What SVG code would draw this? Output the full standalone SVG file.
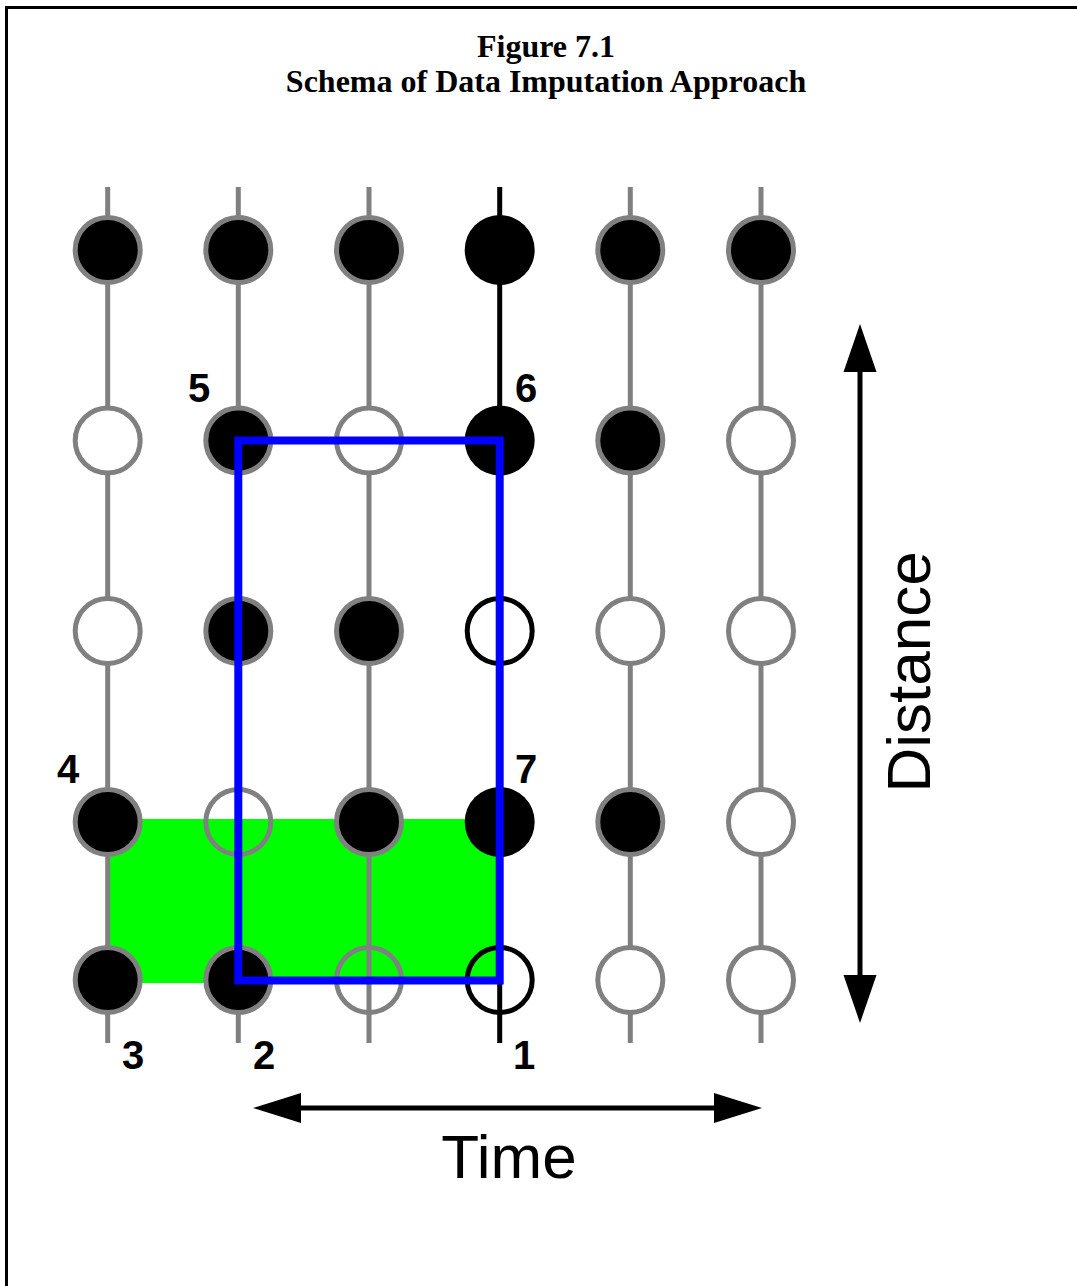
<svg xmlns="http://www.w3.org/2000/svg" width="1077" height="1286" viewBox="0 0 1077 1286">
<style>
.title{font-family:"Liberation Serif","Times New Roman",serif;font-weight:bold;font-size:32px;text-anchor:middle;fill:#000}
.lbl{font-family:"Liberation Sans",Arial,sans-serif;font-weight:bold;font-size:40px;text-anchor:middle;fill:#000}
.axis{font-family:"Liberation Sans",Arial,sans-serif;font-size:62px;text-anchor:middle;fill:#000}
.gl{stroke:#808080;stroke-width:5;fill:none}
.bl{stroke:#000;stroke-width:5;fill:none}
.gf{fill:#000;stroke:#808080;stroke-width:5}
.ge{fill:#fff;stroke:#808080;stroke-width:5}
.gn{fill:none;stroke:#808080;stroke-width:5}
.kf{fill:#000;stroke:none}
.ke{fill:#fff;stroke:#000;stroke-width:5}
.kn{fill:none;stroke:#000;stroke-width:5}
</style>
<rect x="0" y="0" width="1077" height="1286" fill="#fff"/>
<path d="M6.5 1286 V7.5 H1077" fill="none" stroke="#000" stroke-width="3"/>
<text class="title" x="546" y="57">Figure 7.1</text>
<text class="title" x="546" y="92">Schema of Data Imputation Approach</text>
<rect id="window" x="108" y="819" width="392" height="164" fill="#00ff00"/>
<g id="connectors">
<line class="gl" x1="107.7" y1="187" x2="107.7" y2="1043"/>
<line class="gl" x1="238.3" y1="187" x2="238.3" y2="1043"/>
<line class="gl" x1="369" y1="187" x2="369" y2="1043"/>
<line class="bl" x1="499.7" y1="187" x2="499.7" y2="1043"/>
<line class="gl" x1="630.3" y1="187" x2="630.3" y2="1043"/>
<line class="gl" x1="761" y1="187" x2="761" y2="1043"/>
<path d="M860 370 V977" stroke="#000" stroke-width="5" fill="none"/>
<polygon points="860,324 843.5,372 876.5,372" fill="#000"/>
<polygon points="860,1023 843.5,975 876.5,975" fill="#000"/>
<path d="M299 1108 H716" stroke="#000" stroke-width="5" fill="none"/>
<polygon points="253,1108 301,1093 301,1123" fill="#000"/>
<polygon points="762,1108 714,1093 714,1123" fill="#000"/>
</g>
<g id="nodes">
<g id="r1">
<circle class="gf" cx="107.7" cy="250" r="32.5"/>
<circle class="gf" cx="238.3" cy="250" r="32.5"/>
<circle class="gf" cx="369" cy="250" r="32.5"/>
<circle class="kf" cx="499.7" cy="250" r="35"/>
<circle class="gf" cx="630.3" cy="250" r="32.5"/>
<circle class="gf" cx="761" cy="250" r="32.5"/>
</g>
<g id="r2">
<circle class="ge" cx="107.7" cy="440.5" r="32.5"/>
<circle class="gf" cx="238.3" cy="440.5" r="32.5"/>
<circle class="ge" cx="369" cy="440.5" r="32.5"/>
<circle class="kf" cx="499.7" cy="440.5" r="35"/>
<circle class="gf" cx="630.3" cy="440.5" r="32.5"/>
<circle class="ge" cx="761" cy="440.5" r="32.5"/>
</g>
<g id="r3">
<circle class="ge" cx="107.7" cy="631" r="32.5"/>
<circle class="gf" cx="238.3" cy="631" r="32.5"/>
<circle class="gf" cx="369" cy="631" r="32.5"/>
<circle class="ke" cx="499.7" cy="631" r="32.5"/>
<circle class="ge" cx="630.3" cy="631" r="32.5"/>
<circle class="ge" cx="761" cy="631" r="32.5"/>
</g>
<g id="r4">
<circle class="gf" cx="107.7" cy="822" r="32.5"/>
<circle class="gn" cx="238.3" cy="822" r="32.5"/>
<circle class="gf" cx="369" cy="822" r="32.5"/>
<circle class="kf" cx="499.7" cy="822" r="35"/>
<circle class="gf" cx="630.3" cy="822" r="32.5"/>
<circle class="ge" cx="761" cy="822" r="32.5"/>
</g>
<g id="r5">
<circle class="gf" cx="107.7" cy="980" r="32.5"/>
<circle class="gf" cx="238.3" cy="980" r="32.5"/>
<circle class="gn" cx="369" cy="980" r="32.5"/>
<circle class="kn" cx="499.7" cy="980" r="32.5"/>
<circle class="ge" cx="630.3" cy="980" r="32.5"/>
<circle class="ge" cx="761" cy="980" r="32.5"/>
</g>
</g>
<rect id="neighborhood" x="238.3" y="440.5" width="261.4" height="540" fill="none" stroke="#0000ff" stroke-width="8"/>
<g id="labels">
<text class="lbl" x="199" y="402">5</text>
<text class="lbl" x="526" y="402">6</text>
<text class="lbl" x="68" y="783">4</text>
<text class="lbl" x="526" y="783">7</text>
<text class="lbl" x="133" y="1069">3</text>
<text class="lbl" x="264" y="1069">2</text>
<text class="lbl" x="524" y="1069">1</text>
</g>
<text class="axis" x="509" y="1178">Time</text>
<text class="axis" transform="translate(930,672) rotate(-90)">Distance</text>
</svg>
